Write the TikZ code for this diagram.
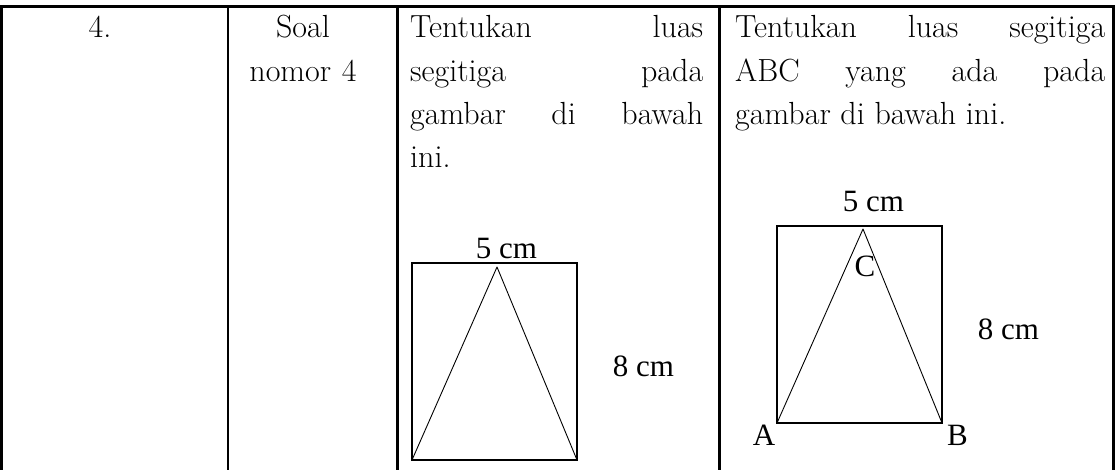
\documentclass[tikz,border=0pt]{standalone}
\usepackage{fontspec}
\newfontfamily\gambarfont{Liberation Serif}

\begin{document}
\begin{tikzpicture}[x=1pt,y=-1pt,
    garis/.style={line width=2.4pt},
    kotak/.style={line width=2pt},
    sisi/.style={line width=0.9pt,line join=round},
    isi/.style={inner sep=0pt,font=\fontsize{32}{43.3}\selectfont},
    ukuran/.style={inner sep=0pt,font=\gambarfont\fontsize{31}{31}\selectfont}]
  \useasboundingbox (0,0) rectangle (1118,470);

  % garis tabel
  \coordinate (kiriAtas) at (1.4,6.5);
  \coordinate (kananAtas) at (1113.5,6.5);
  \draw[garis] (kiriAtas |- 0,470) -- (kiriAtas) -- (kananAtas) -- (kananAtas |- 0,470);
  \foreach \x in {228,397.5,719.5}
    \draw[garis] (\x,6.5) -- (\x,470);

  % isi tabel
  \node[isi,anchor=base] (nomor) at (100,38) {4.};
  \node[isi,anchor=base,text width=150,align=center] (soal) at (303,38) {Soal\\nomor 4};
  \node[isi,anchor=base west,text width=293,align=justify] (tanya) at (410,38)
    {Tentukan\hfill luas\\segitiga\hfill pada\\gambar\hfill di\hfill bawah\\ini.};
  \node[isi,anchor=base west,text width=370,align=justify] (tanyaBaru) at (735,38)
    {Tentukan\hfill luas\hfill segitiga\\ABC\hfill yang\hfill ada\hfill pada\\gambar di bawah ini.};

  % gambar kiri
  \coordinate (k1) at (412,460);
  \coordinate (k2) at (577,263);
  \coordinate (kPuncak) at (497,267);
  \draw[kotak] (k1) rectangle (k2);
  \draw[sisi] (k1) -- (kPuncak) -- (k1 -| k2);
  \node[ukuran,anchor=base] (lebarKiri) at (506.5,258.3) {5 cm};
  \node[ukuran,anchor=base] (tinggiKiri) at (643.5,376.7) {8 cm};

  % gambar kanan
  \coordinate (A) at (777,423);
  \coordinate (B) at (942,423);
  \coordinate (C) at (863,229);
  \draw[kotak] (A) rectangle (B |- 0,226);
  \draw[sisi] (A) -- (C) -- (B);
  \node[ukuran,anchor=base] (lebarKanan) at (873.5,211.7) {5 cm};
  \node[ukuran,anchor=base] (tinggiKanan) at (1008.5,339) {8 cm};
  \node[ukuran,anchor=base] (labelA) at (764,445) {A};
  \node[ukuran,anchor=base] (labelB) at (957.5,445) {B};
  \node[ukuran,anchor=base] (labelC) at (865,276.7) {C};
\end{tikzpicture}
\end{document}
